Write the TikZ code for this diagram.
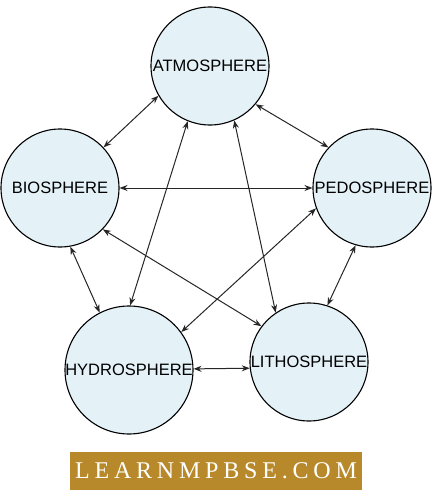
\documentclass[tikz,border=0pt]{standalone}
\usepackage{fontspec}
\setmainfont{Liberation Sans}
\newfontfamily\bannerfont[LetterSpace=20]{Liberation Serif}
\usetikzlibrary{arrows.meta}
\definecolor{spherefill}{HTML}{E4F2F8}
\definecolor{bannergold}{HTML}{B8892B}
\begin{document}
\begin{tikzpicture}[x=1pt,y=-1pt,
  sphere/.style={circle,draw,line width=1.1pt,fill=spherefill,minimum size=118pt,inner sep=0pt,font=\fontsize{16.5}{19}\selectfont},
  link/.style={{Stealth[length=8pt,width=6pt]}-{Stealth[length=8pt,width=6pt]},line width=1pt,black!85}]
\useasboundingbox (0,0) rectangle (435,495);
% the five spheres
\node[sphere] (atm) at (210,66) {ATMOSPHERE};
\node[sphere] (bio) at (60,188) {BIOSPHERE};
\node[sphere] (ped) at (372,188) {PEDOSPHERE};
\node[sphere,minimum size=128pt] (hyd) at (129,370) {HYDROSPHERE};
\node[sphere] (lit) at (309,362) {LITHOSPHERE};

% links between spheres
\draw[link] (atm.210) -- (bio.43);
\draw[link] (atm.320) -- (ped.137);
\draw[link] (bio.0) -- (ped.180);
\draw[link] (atm.248) -- (hyd.89);
\draw[link] (atm.294) -- (lit.124);
\draw[link] (bio.316) -- (lit.143);
\draw[link] (ped.200) -- (hyd.36);
\draw[link] (bio.280) -- (hyd.117);
\draw[link] (ped.254) -- (lit.72);
\draw[link] (hyd.1) -- (lit.186);

% banner
\node[fill=bannergold,minimum width=292pt,minimum height=38pt,text=white,
  font=\bannerfont\fontsize{24}{27}\selectfont] (banner) at (216,471) {LEARNMPBSE.COM};
\end{tikzpicture}
\end{document}
